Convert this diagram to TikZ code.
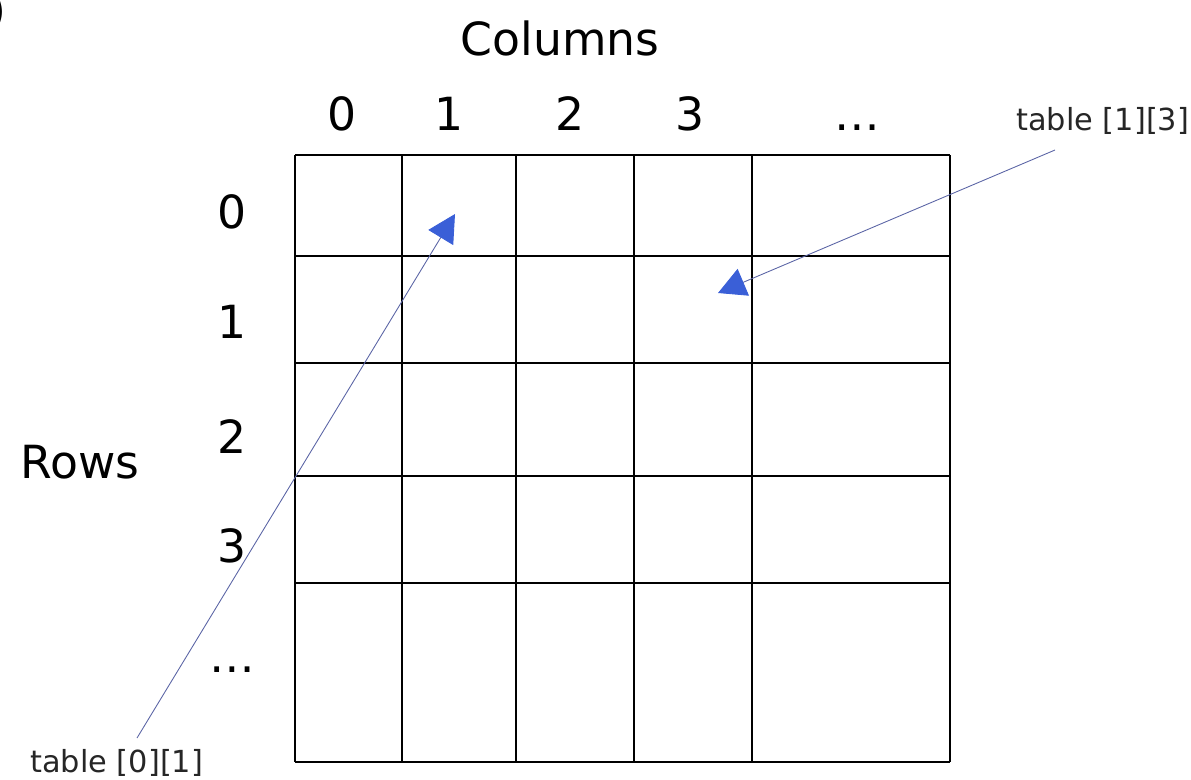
\documentclass[tikz,border=0pt]{standalone}
\usepackage{fontspec}
\setmainfont{DejaVu Sans}
\usetikzlibrary{arrows.meta}
\definecolor{linkline}{RGB}{90,100,165}
\definecolor{tipblue}{RGB}{58,95,215}
\tikzset{
  bigtext/.style={font=\fontsize{26}{30}\selectfont, inner sep=0pt, anchor=base},
  smalltext/.style={font=\fontsize{17.3}{20}\selectfont, text=black!85, inner sep=0pt, anchor=base west},
  pointer/.style={draw=linkline, line width=0.5pt,
    -{Triangle[length=0.55cm, width=0.58cm, fill=tipblue, color=tipblue]}},
}
\begin{document}
\begin{tikzpicture}[x=0.02cm,y=-0.02cm]
\useasboundingbox (0,0) rectangle (1191,779);
\node[bigtext, anchor=base east] (cut) at (7,26) {)};
\node[bigtext] (cols) at (560,55) {Columns};
\node[bigtext] (c0) at (342,130) {0};
\node[bigtext] (c1) at (449,130) {1};
\node[bigtext] (c2) at (570,130) {2};
\node[bigtext] (c3) at (690,130) {3};
\node[bigtext] (c4) at (857,130) {\dots};
\node[bigtext] (rows) at (80,478) {Rows};
\node[bigtext] (r0) at (232,228) {0};
\node[bigtext] (r1) at (232,338) {1};
\node[bigtext] (r2) at (232,453) {2};
\node[bigtext] (r3) at (232,562) {3};
\node[bigtext] (r4) at (232,672) {\dots};
% grid
\foreach \x in {295,402,516,634,752,950}
  \draw[line width=1pt] (\x,155) -- (\x,762);
\foreach \y in {155,256,363,476,583,762}
  \draw[line width=1pt] (295,\y) -- (950,\y);
% pointers
\node[smalltext] (t01) at (30,772) {table [0][1]};
\node[smalltext] (t13) at (1016,130) {table [1][3]};
\coordinate (a01) at (455,214);
\coordinate (a13) at (718,293);
\draw[pointer] (137,738) -- (a01);
\draw[pointer] (1055,150) -- (a13);
\end{tikzpicture}
\end{document}
